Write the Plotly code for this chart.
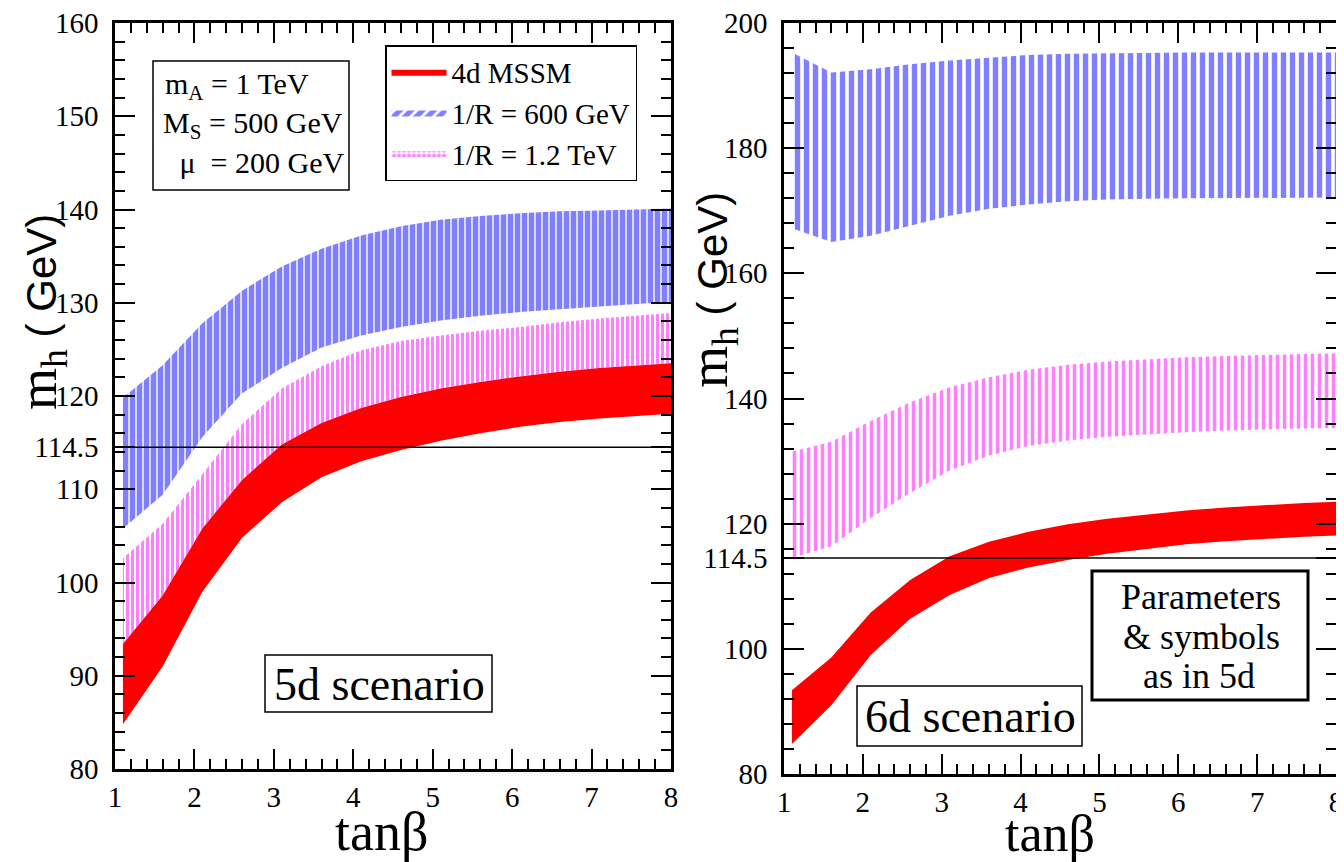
import plotly.graph_objects as go

# ---------------- data ----------------
tanb = [1.1, 1.6, 2.1, 2.6, 3.1, 3.6, 4.1, 4.6, 5.1, 5.6, 6.1, 6.6, 7.1, 7.6, 8.0]

# 4d MSSM (same in both panels)
mssm_hi = [93.4, 98.6, 105.8, 111.0, 114.8, 117.1, 118.7, 119.9, 120.8, 121.5, 122.1, 122.6, 123.0, 123.3, 123.5]
mssm_lo = [84.8, 91.0, 99.0, 104.8, 108.6, 111.3, 113.0, 114.2, 115.2, 116.0, 116.7, 117.2, 117.6, 117.9, 118.1]

# 5d scenario
r600_5d_hi = [119.8, 123.3, 127.8, 131.3, 133.9, 135.8, 137.2, 138.2, 138.9, 139.3, 139.6, 139.8, 139.9, 140.0, 140.1]
r600_5d_lo = [105.8, 109.4, 115.6, 120.3, 123.0, 125.2, 126.5, 127.4, 128.1, 128.6, 129.0, 129.3, 129.6, 129.9, 130.1]
r1200_5d_hi = [102.6, 106.3, 111.6, 117.0, 120.8, 123.2, 124.9, 125.9, 126.5, 127.0, 127.4, 127.9, 128.3, 128.6, 128.9]
r1200_5d_lo = mssm_hi

# 6d scenario
r600_6d_hi = [195.3, 192.1, 192.6, 193.4, 194.0, 194.5, 194.9, 195.1, 195.2, 195.3, 195.3, 195.3, 195.3, 195.3, 195.3]
r600_6d_lo = [167.2, 165.0, 166.0, 167.6, 169.2, 170.3, 171.0, 171.5, 171.8, 171.9, 172.0, 172.0, 172.1, 172.1, 172.1]
r1200_6d_hi = [131.5, 133.1, 136.4, 139.4, 141.8, 143.4, 144.6, 145.4, 145.9, 146.3, 146.6, 146.8, 147.0, 147.1, 147.2]
r1200_6d_lo = [114.5, 116.4, 120.9, 124.9, 128.5, 130.9, 132.4, 133.3, 133.9, 134.3, 134.6, 134.9, 135.1, 135.2, 135.3]

lep_limit = 114.5
yticks_5d = [80, 90, 100, 110, 114.5, 120, 130, 140, 150, 160]
yticks_6d = [80, 100, 114.5, 120, 140, 160, 180, 200]
xticks = [1, 2, 3, 4, 5, 6, 7, 8]

# page has an 8px body margin: figure is shifted by (8, 8)
OFF = 8
W, H = 1336, 854
SERIF = "Liberation Serif"
SANS = "Liberation Sans"


def px(x):
    return (x - OFF) / W


def py(y):
    return 1 - (y - OFF) / H


def band(x, lo, hi, xa, ya, **kw):
    return go.Scatter(
        x=list(x) + list(x)[::-1],
        y=list(hi) + list(lo)[::-1],
        fill="toself", mode="lines", line=dict(width=0),
        xaxis=xa, yaxis=ya, showlegend=False, hoverinfo="skip", **kw)


fig = go.Figure()

# 5d panel
fig.add_trace(band(tanb, mssm_lo, mssm_hi, "x", "y", fillcolor="#ff0000"))
fig.add_trace(band(tanb, r1200_5d_lo, r1200_5d_hi, "x", "y", fillcolor="rgba(0,0,0,0)",
                   fillpattern=dict(shape="|", fgcolor="#ff00ff", bgcolor="rgba(0,0,0,0)",
                                    size=5, solidity=0.6)))
fig.add_trace(band(tanb, r600_5d_lo, r600_5d_hi, "x", "y", fillcolor="rgba(0,0,0,0)",
                   fillpattern=dict(shape="|", fgcolor="#0000ff", bgcolor="rgba(0,0,0,0)",
                                    size=7, solidity=0.8)))

# 6d panel
fig.add_trace(band(tanb, mssm_lo, mssm_hi, "x2", "y2", fillcolor="#ff0000"))
fig.add_trace(band(tanb, r1200_6d_lo, r1200_6d_hi, "x2", "y2", fillcolor="rgba(0,0,0,0)",
                   fillpattern=dict(shape="|", fgcolor="#ff00ff", bgcolor="rgba(0,0,0,0)",
                                    size=7, solidity=0.5)))
fig.add_trace(band(tanb, r600_6d_lo, r600_6d_hi, "x2", "y2", fillcolor="rgba(0,0,0,0)",
                   fillpattern=dict(shape="|", fgcolor="#0000ff", bgcolor="rgba(0,0,0,0)",
                                    size=9, solidity=0.6)))

# LEP limit lines
for xa, ya in (("x", "y"), ("x2", "y2")):
    fig.add_trace(go.Scatter(x=[1, 8], y=[lep_limit, lep_limit], mode="lines",
                             line=dict(color="black", width=1.5), xaxis=xa, yaxis=ya,
                             showlegend=False, hoverinfo="skip"))

# legend-only entries
fig.add_trace(go.Scatter(x=[None], y=[None], mode="lines", fill="toself", name="4d MSSM",
                         fillcolor="#ff0000", line=dict(width=0), legendrank=1))
fig.add_trace(go.Scatter(x=[None], y=[None], mode="lines", fill="toself", name="1/R = 600 GeV",
                         fillcolor="rgba(0,0,0,0)", line=dict(width=0), legendrank=2,
                         fillpattern=dict(shape="/", fgcolor="#0000ff", bgcolor="white",
                                          size=8, solidity=0.65)))
fig.add_trace(go.Scatter(x=[None], y=[None], mode="lines", fill="toself", name="1/R = 1.2 TeV",
                         fillcolor="rgba(0,0,0,0)", line=dict(width=0), legendrank=3,
                         fillpattern=dict(shape=".", fgcolor="#ff00ff", bgcolor="white",
                                          size=5, solidity=0.55)))

axis_common = dict(showline=True, linecolor="black", linewidth=2.5, mirror="ticks",
                   ticks="inside", ticklen=20, tickwidth=2, tickcolor="black",
                   showgrid=False, zeroline=False, automargin=False,
                   ticklabeloverflow="allow",
                   tickfont=dict(family=SERIF, size=29, color="black"))

fig.update_layout(
    width=W, height=H, margin=dict(l=0, r=0, t=0, b=0, autoexpand=False),
    paper_bgcolor="white", plot_bgcolor="white",
    xaxis=dict(domain=[px(115), px(671)], range=[1, 8], tickvals=xticks, anchor="y",
               minor=dict(dtick=0.2, ticks="inside", ticklen=10, tickwidth=2, tickcolor="black"),
               **axis_common),
    yaxis=dict(domain=[py(769), py(23)], range=[80, 160], tickvals=yticks_5d,
               ticktext=[str(v) for v in yticks_5d], anchor="x", ticklabelstandoff=8,
               minor=dict(dtick=2, ticks="inside", ticklen=10, tickwidth=2, tickcolor="black"),
               **axis_common),
    xaxis2=dict(domain=[px(784), px(1336)], range=[1, 8], tickvals=xticks, anchor="y2",
                minor=dict(dtick=0.2, ticks="inside", ticklen=10, tickwidth=2, tickcolor="black"),
                **axis_common),
    yaxis2=dict(domain=[py(774), py(23)], range=[80, 200], tickvals=yticks_6d,
                ticktext=[str(v) for v in yticks_6d], anchor="x2", ticklabelstandoff=8,
                minor=dict(dtick=4, ticks="inside", ticklen=10, tickwidth=2, tickcolor="black"),
                **axis_common),
    legend=dict(x=px(385), y=py(45), xanchor="left", yanchor="top",
                bgcolor="white", bordercolor="black", borderwidth=1.5,
                font=dict(family=SERIF, size=29, color="black"),
                itemwidth=55, tracegroupgap=0),
    showlegend=True,
)


def label(x, y, text, size, family=SERIF, **kw):
    d = dict(x=px(x), y=py(y), text=text, showarrow=False, xref="paper", yref="paper",
             xanchor="center", yanchor="middle", font=dict(family=family, size=size, color="black"))
    d.update(kw)
    return d


ann = []
# axis titles
ytitle = ('<span style="font-family:Liberation Serif;font-size:54px">m<sub>h</sub></span>'
          '<span style="font-family:Liberation Sans"> ( GeV)</span>')
ann.append(label(42, 312, ytitle, 42, SANS, textangle=-90))
ann.append(label(713, 290, ytitle, 42, SANS, textangle=-90))
ann.append(label(381, 832, "tanβ", 54))
ann.append(label(1050, 833, "tanβ", 52))
# parameter box text
ann.append(label(163, 86, "m<sub>A</sub> = 1 TeV", 30, xanchor="left"))
ann.append(label(161, 125, "M<sub>S</sub> = 500 GeV", 30, xanchor="left"))
ann.append(label(170, 163, "\u00a0μ\u00a0 = 200 GeV", 30, xanchor="left"))
ann.append(label(380, 684, "5d scenario", 46))
ann.append(label(970, 716, "6d scenario", 46))
ann.append(label(1201, 597, "Parameters", 36))
ann.append(label(1201, 637, "&amp; symbols", 36))
ann.append(label(1199, 676, "as in 5d", 36))
fig.update_layout(annotations=ann)

shapes = [
    dict(type="rect", xref="paper", yref="paper", x0=px(153), x1=px(349), y0=py(190), y1=py(61),
         line=dict(color="black", width=1.5)),
    dict(type="rect", xref="paper", yref="paper", x0=px(265), x1=px(492), y0=py(712), y1=py(655),
         line=dict(color="black", width=1.5)),
    dict(type="rect", xref="paper", yref="paper", x0=px(857), x1=px(1082), y0=py(746), y1=py(686),
         line=dict(color="black", width=1.5)),
    dict(type="rect", xref="paper", yref="paper", x0=px(1092), x1=px(1308), y0=py(700), y1=py(571),
         line=dict(color="black", width=3)),
]
fig.update_layout(shapes=shapes)

fig.write_html("out.html")
